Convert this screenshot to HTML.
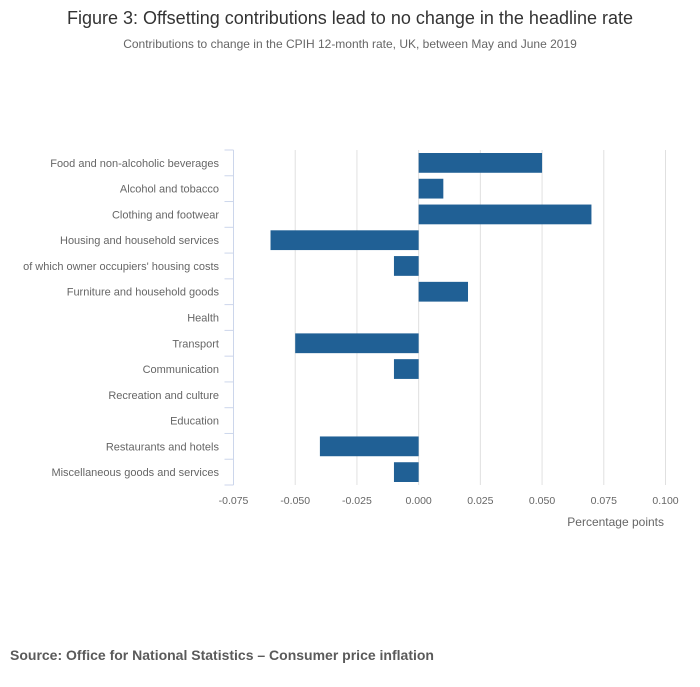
<!DOCTYPE html>
<html><head><meta charset="utf-8"><style>
body{margin:0;background:#fff;width:700px;height:682px;overflow:hidden;font-family:"Liberation Sans",sans-serif}
svg text{font-family:"Liberation Sans",sans-serif}
</style></head><body>
<svg width="700" height="682">
<text x="350" y="24" text-anchor="middle" font-size="18" fill="#333">Figure 3: Offsetting contributions lead to no change in the headline rate</text>
<text x="350" y="48" text-anchor="middle" font-size="12" fill="#666">Contributions to change in the CPIH 12-month rate, UK, between May and June 2019</text>
<g id="plot"></g>
<text x="664" y="526" text-anchor="end" font-size="12" fill="#666">Percentage points</text>
<text x="10" y="660" font-size="14" font-weight="bold" fill="#5a5a5a">Source: Office for National Statistics – Consumer price inflation</text>
</svg>
<script>
const categories=["Food and non-alcoholic beverages","Alcohol and tobacco","Clothing and footwear","Housing and household services","of which owner occupiers' housing costs","Furniture and household goods","Health","Transport","Communication","Recreation and culture","Education","Restaurants and hotels","Miscellaneous goods and services"];
const values=[0.05,0.01,0.07,-0.06,-0.01,0.02,0,-0.05,-0.01,0,0,-0.04,-0.01];
const ticks=[-0.075,-0.05,-0.025,0,0.025,0.05,0.075,0.1];
const tickLabels=["-0.075","-0.050","-0.025","0.000","0.025","0.050","0.075","0.100"];
const NS="http://www.w3.org/2000/svg";
const g=document.getElementById('plot');
const x0=233.5,x1=665.5,yTop=150,yBot=485;
const xs=v=>x0+(v-ticks[0])/(ticks[ticks.length-1]-ticks[0])*(x1-x0);
const band=(yBot-yTop)/categories.length;
const ys=i=>yTop+i*band;
function mk(t,a){const e=document.createElementNS(NS,t);for(const k in a)e.setAttribute(k,a[k]);g.appendChild(e);return e;}
ticks.forEach((t,i)=>{
 if(i>0){const l=mk('line',{x1:xs(t),x2:xs(t),y1:yTop,y2:yBot,stroke:'#e0e0e0'});
 
 }
 const tx=mk('text',{x:xs(t),y:504,'text-anchor':'middle','font-size':'10.5',fill:'#666'});tx.textContent=tickLabels[i];
 
 
});
const ax=mk('line',{x1:x0,x2:x0,y1:yTop,y2:yBot,stroke:'#ccd6eb'});


for(let i=0;i<=categories.length;i++){const tk=mk('line',{x1:x0-9,x2:x0,y1:ys(i),y2:ys(i),stroke:'#ccd6eb'});
 
 }
categories.forEach((c,i)=>{
 const tx=mk('text',{x:219,y:ys(i)+band/2+4,'text-anchor':'end','font-size':'11',fill:'#666'});tx.textContent=c;
 
 
 const v=values[i];if(v===0)return;
 const a=xs(Math.min(0,v)),b=xs(Math.max(0,v));
 const r=mk('rect',{x:a,y:ys(i)+3,width:b-a,height:band-6,fill:'#206095'});
 
 
});
</script>
</body></html>
